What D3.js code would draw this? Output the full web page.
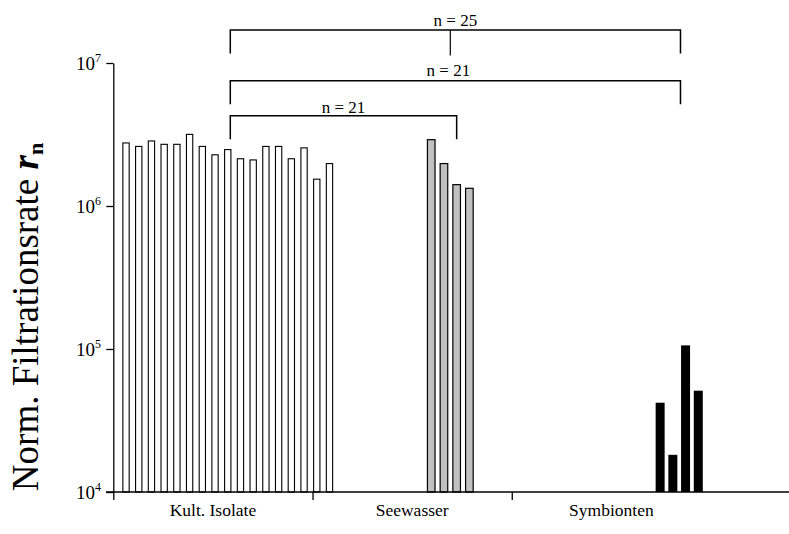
<!DOCTYPE html>
<html>
<head>
<meta charset="utf-8">
<script src="https://cdn.jsdelivr.net/npm/d3@7/dist/d3.min.js"></script>
<style>
  html, body { margin: 0; padding: 0; background: #fff; }
  svg { display: block; }
  text { font-family: "Liberation Serif", "Times New Roman", serif; fill: #000; }
</style>
</head>
<body>
<div id="chart"></div>
<script>
// ---- data ----
const categories = ["Kult. Isolate", "Seewasser", "Symbionten"];
const kultIsolateValues = [2.76e6, 2.61e6, 2.85e6, 2.70e6, 2.70e6, 3.17e6, 2.61e6, 2.28e6, 2.48e6,
                           2.14e6, 2.10e6, 2.61e6, 2.61e6, 2.14e6, 2.55e6, 1.54e6, 1.98e6];
const seewasserValues = [2.91e6, 1.98e6, 1.41e6, 1.33e6];
const symbiontenValues = [4.21e4, 1.82e4, 1.06e5, 5.11e4];
const groupStartSlots = [0, 24, 42];
const yTickValues = [1e4, 1e5, 1e6, 1e7];
const yTickExponents = ["4", "5", "6", "7"];
const bracketLabels = ["n = 25", "n = 21", "n = 21"];
const bracketFrom = [8.2, 8.2, 8.2];
const bracketTo = [43.6, 43.6, 26.0];
const bracketMid = [25.5, null, null];

// ---- layout ----
const W = 789, H = 534;
const svg = d3.select("#chart").append("svg").attr("width", W).attr("height", H);

const x = d3.scaleLinear().domain([-1, 46]).range([113.3, 711]);
const y = d3.scaleLog().domain([1e4, 1e7]).range([492, 63]);

const groups = [
  { name: categories[0], values: kultIsolateValues, start: groupStartSlots[0], fill: "#fff", stroke: "#000", sw: 1.1, w: 6.3 },
  { name: categories[1], values: seewasserValues, start: groupStartSlots[1], fill: "#c0c0c0", stroke: "#000", sw: 1.2, w: 7.6 },
  { name: categories[2], values: symbiontenValues, start: groupStartSlots[2], fill: "#000", stroke: "none", sw: 0, w: 9 }
];

// bars
groups.forEach(g => {
  svg.append("g").selectAll("rect").data(g.values).join("rect")
    .attr("x", (d, i) => x(g.start + i) - g.w / 2)
    .attr("y", d => y(d))
    .attr("width", g.w)
    .attr("height", d => y(1e4) - y(d))
    .attr("fill", g.fill)
    .attr("stroke", g.stroke)
    .attr("stroke-width", g.sw);
});

// y axis
const yAxis = svg.append("g")
  .attr("transform", `translate(${x(-1)},0)`)
  .call(d3.axisLeft(y).tickValues(yTickValues).tickSize(7).tickSizeOuter(0).tickFormat(""));
yAxis.selectAll("path, line").attr("stroke", "#000").attr("stroke-width", 1.3);
yAxis.selectAll("text").remove();
yTickValues.forEach((v, i) => {
  const t = svg.append("text")
    .attr("x", 101).attr("y", y(v) + 7)
    .attr("text-anchor", "end")
    .style("font-size", "19px");
  t.append("tspan").text("10");
  t.append("tspan").attr("dy", -8).style("font-size", "12px").text(yTickExponents[i]);
});

// x axis
const xTicks = [0, 1, 2].map(k => -1 + 47 * k / 3);
const xAxis = svg.append("g")
  .attr("transform", `translate(0,${y(1e4)})`)
  .call(d3.axisBottom(x).tickValues(xTicks).tickSize(8).tickSizeOuter(0).tickFormat(""));
xAxis.select(".domain").remove();
xAxis.selectAll("line").attr("stroke", "#000").attr("stroke-width", 1.3);
svg.append("line")
  .attr("x1", 106).attr("x2", W).attr("y1", y(1e4)).attr("y2", y(1e4))
  .attr("stroke", "#000").attr("stroke-width", 1.3);

categories.forEach((c, k) => {
  svg.append("text")
    .attr("x", x(-1 + 47 * (k + 0.5) / 3))
    .attr("y", 516)
    .attr("text-anchor", "middle")
    .style("font-size", "17.5px")
    .text(c);
});

// y label
const yl = svg.append("text")
  .attr("transform", "translate(38,317) rotate(-90)")
  .attr("text-anchor", "middle")
  .style("font-size", "37px");
yl.append("tspan").text("Norm. Filtrationsrate ");
yl.append("tspan").style("font-weight", "bold").style("font-style", "italic").text("r");
yl.append("tspan").attr("dy", 5).style("font-weight", "bold").style("font-size", "22px").text("n");

// brackets
const bracketTop = [30, 80.7, 115.7];
const bracketLeg = [53.5, 104.3, 139.3];
const bracketTextY = [26, 76, 112.5];
const bracketTextShift = [0, -7, 0];
bracketLabels.forEach((lab, i) => {
  const x1 = x(bracketFrom[i]), x2 = x(bracketTo[i]);
  svg.append("path")
    .attr("d", `M${x1},${bracketLeg[i]}V${bracketTop[i]}H${x2}V${bracketLeg[i]}`)
    .attr("fill", "none").attr("stroke", "#000").attr("stroke-width", 1.5);
  if (bracketMid[i] !== null) {
    svg.append("path")
      .attr("d", `M${x(bracketMid[i])},${bracketTop[i]}V${bracketLeg[i] + 2}`)
      .attr("fill", "none").attr("stroke", "#000").attr("stroke-width", 1.2);
  }
  svg.append("text")
    .attr("x", (x1 + x2) / 2 + bracketTextShift[i])
    .attr("y", bracketTextY[i])
    .attr("text-anchor", "middle")
    .style("font-size", "17px")
    .text(lab);
});
</script>
</body>
</html>
